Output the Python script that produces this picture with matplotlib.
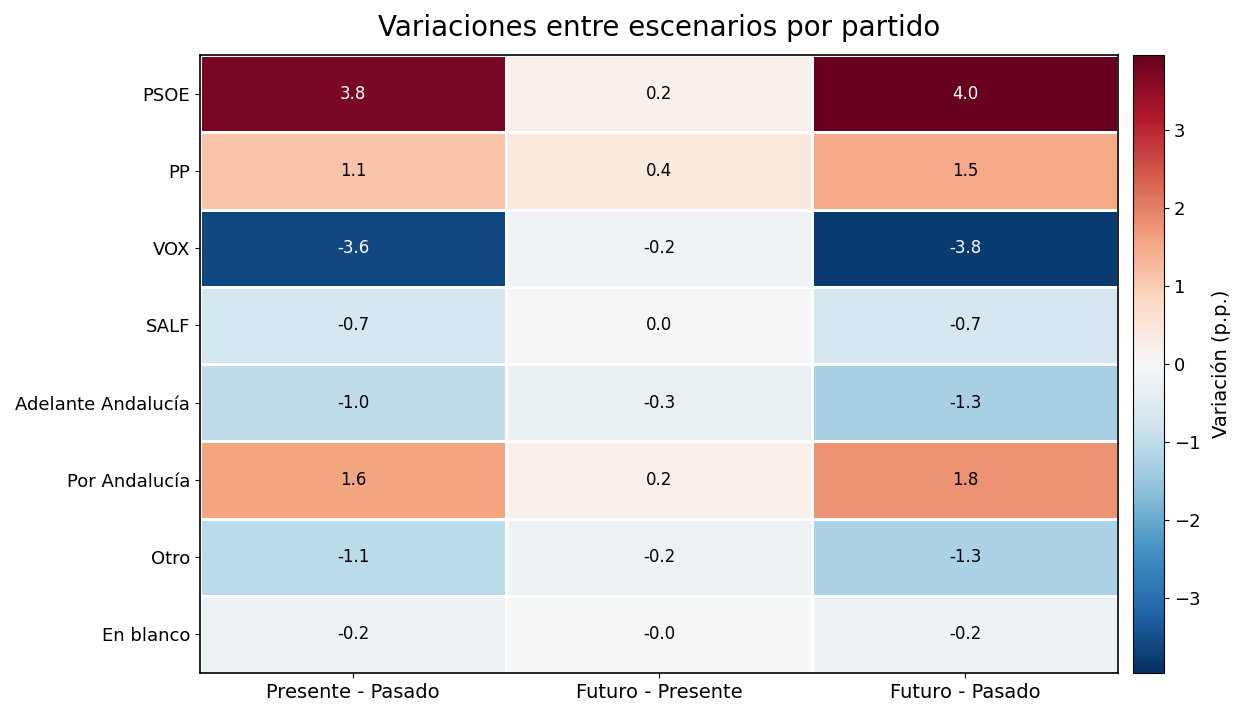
import numpy as np
import matplotlib
matplotlib.use("Agg")
import matplotlib.pyplot as plt

partidos = ["PSOE", "PP", "VOX", "SALF", "Adelante Andalucía",
            "Por Andalucía", "Otro", "En blanco"]
escenarios = ["Presente - Pasado", "Futuro - Presente", "Futuro - Pasado"]

presente_pasado = [3.78, 1.12, -3.62, -0.71, -1.02, 1.58, -1.08, -0.19]
futuro_presente = [0.19, 0.38, -0.17, 0.02, -0.28, 0.21, -0.19, -0.03]
futuro_pasado = [3.97, 1.50, -3.79, -0.69, -1.30, 1.79, -1.27, -0.22]

data = np.array([presente_pasado, futuro_presente, futuro_pasado]).T
vmax = np.abs(data).max()

fig = plt.figure(figsize=(12.39, 7.08), dpi=100)
ax = fig.add_axes([200 / 1239, 1 - 673 / 708, 918 / 1239, 618 / 708])
cax = fig.add_axes([1133 / 1239, 1 - 673 / 708, 31 / 1239, 618 / 708])

mesh = ax.pcolormesh(data, cmap="RdBu_r", vmin=-vmax, vmax=vmax,
                     edgecolors="white", linewidth=1)
ax.set_xlim(0, data.shape[1])
ax.set_ylim(data.shape[0], 0)

for i in range(data.shape[0]):
    for j in range(data.shape[1]):
        v = data[i, j]
        color = "white" if abs(v) > 2.5 else "black"
        ax.text(j + 0.5, i + 0.5, f"{v:.1f}", ha="center", va="center",
                fontsize=12, color=color)

ax.set_xticks(np.arange(len(escenarios)) + 0.5)
ax.set_xticklabels(escenarios, fontsize=14)
ax.set_yticks(np.arange(len(partidos)) + 0.5)
ax.set_yticklabels(partidos, fontsize=13)
for s in ax.spines.values():
    s.set_linewidth(1.2)

ax.set_title("Variaciones entre escenarios por partido", fontsize=20, pad=14)

cb = fig.colorbar(mesh, cax=cax)
cb.set_ticks([-3, -2, -1, 0, 1, 2, 3])
cb.ax.tick_params(labelsize=13)
cb.set_label("Variación (p.p.)", fontsize=14, labelpad=8)

fig.savefig("out.png", dpi=100)
